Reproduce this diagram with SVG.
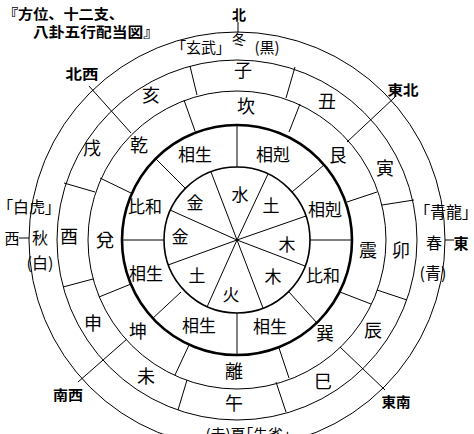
<svg xmlns="http://www.w3.org/2000/svg" width="474" height="434" viewBox="0 0 474 434">
<style>
.c{fill:none;stroke:#000;stroke-width:1}
.k{stroke-width:2.6}
.m{stroke-width:1.6}
.l line{stroke:#000;stroke-width:1}
text{font-family:"Noto Sans CJK JP","Noto Sans CJK SC",sans-serif;fill:#000;text-anchor:middle}
.b{font-weight:bold}
.p{font-feature-settings:"palt"}
.s18{font-size:18px}
.s17{font-size:17px}
.s16{font-size:16px}
.s15{font-size:15px}
.s14{font-size:14px}
</style>
<rect width="474" height="434" fill="#fff"/>
<g id="rings">
<circle class="c" cx="237" cy="240" r="208"/>
<circle class="c" cx="237" cy="240" r="180"/>
<circle class="c" cx="237" cy="240" r="149"/>
<circle class="c k" cx="237" cy="240" r="115"/>
<circle class="c m" cx="237" cy="240" r="73"/>
</g>
<g id="connectors" class="l">
<line x1="197" y1="95" x2="190" y2="66"/>
<line x1="286" y1="98" x2="295" y2="67"/>
<line x1="382" y1="205" x2="414" y2="200"/>
<line x1="377" y1="290" x2="407" y2="300"/>
<line x1="276" y1="382" x2="286" y2="412"/>
<line x1="187" y1="380" x2="178" y2="410"/>
<line x1="93" y1="279" x2="63" y2="287"/>
<line x1="95" y1="192" x2="64" y2="183"/>
<line x1="195" y1="131" x2="184" y2="100"/>
<line x1="289" y1="132" x2="300" y2="104"/>
<line x1="347" y1="202" x2="377" y2="192"/>
<line x1="340" y1="292" x2="371" y2="304"/>
<line x1="279" y1="348" x2="289" y2="378"/>
<line x1="189" y1="345" x2="175" y2="375"/>
<line x1="131" y1="284" x2="99" y2="297"/>
<line x1="131" y1="193" x2="100" y2="178"/>
<line x1="237" y1="167" x2="237" y2="125"/>
<line x1="292" y1="192" x2="324" y2="165"/>
<line x1="310" y1="240" x2="352" y2="240"/>
<line x1="289" y1="292" x2="317" y2="323"/>
<line x1="237" y1="313" x2="237" y2="355"/>
<line x1="181" y1="292" x2="152" y2="319"/>
<line x1="164" y1="240" x2="122" y2="240"/>
<line x1="185" y1="188" x2="156" y2="159"/>
<line x1="237" y1="240" x2="211" y2="172"/>
<line x1="237" y1="240" x2="268" y2="174"/>
<line x1="237" y1="240" x2="306" y2="216"/>
<line x1="237" y1="240" x2="305" y2="266"/>
<line x1="237" y1="240" x2="263" y2="308"/>
<line x1="237" y1="240" x2="207" y2="307"/>
<line x1="237" y1="240" x2="168" y2="265"/>
<line x1="237" y1="240" x2="170" y2="210"/>
<line x1="131" y1="133" x2="89" y2="86"/>
<line x1="347" y1="142" x2="395" y2="97"/>
<line x1="340" y1="347" x2="385" y2="390"/>
<line x1="127" y1="339" x2="78" y2="382"/>
<line x1="238" y1="22" x2="238" y2="32"/>
<line x1="19" y1="238" x2="29" y2="238"/>
<line x1="445" y1="240" x2="454" y2="240"/>
</g>
<g id="title">
<text class="b s14" x="3" y="19" style="text-anchor:start" textLength="121" lengthAdjust="spacingAndGlyphs">『方位、十二支、</text>
<text class="b s14" x="33" y="37" style="text-anchor:start" textLength="126" lengthAdjust="spacingAndGlyphs">八卦五行配当図』</text>
</g>
<g id="directions">
<text class="b s14" x="239" y="20">北</text>
<text class="b s14" x="82" y="79" textLength="33" lengthAdjust="spacingAndGlyphs">北西</text>
<text class="b s14" x="403" y="95" textLength="31" lengthAdjust="spacingAndGlyphs">東北</text>
<text class="b s14" x="68" y="400" textLength="30" lengthAdjust="spacingAndGlyphs">南西</text>
<text class="b s14" x="396" y="407" textLength="29" lengthAdjust="spacingAndGlyphs">東南</text>
<text class="s15" x="12" y="244">西</text>
<text class="b s15" x="461" y="249">東</text>
</g>
<g id="seasons">
<text class="s15 p" x="201" y="53">「玄武」</text>
<text class="s14" x="239" y="44">冬</text>
<text class="s15" x="267" y="53">(黒)</text>
<text class="s16 p" x="29" y="213">「白虎」</text>
<text class="s16" x="40" y="244">秋</text>
<text class="s16" x="40" y="269">(白)</text>
<text class="s16 p" x="446" y="218">「青龍」</text>
<text class="s16" x="434" y="249">春</text>
<text class="s16" x="433" y="279">(青)</text>
<text class="s15 p" x="248" y="440">(赤)夏「朱雀」</text>
</g>
<g id="branches" class="s18">
<text x="243" y="77">子</text>
<text x="327" y="108">丑</text>
<text x="385" y="175">寅</text>
<text x="401" y="257">卯</text>
<text x="373" y="337">辰</text>
<text x="323" y="388">巳</text>
<text x="234" y="410">午</text>
<text x="146" y="383">未</text>
<text x="93" y="330">申</text>
<text x="69" y="243">酉</text>
<text x="92" y="155">戌</text>
<text x="151" y="102">亥</text>
</g>
<g id="trigrams" class="s18">
<text x="246" y="113">坎</text>
<text x="338" y="162">艮</text>
<text x="368" y="257">震</text>
<text x="325" y="340">巽</text>
<text x="234" y="378">離</text>
<text x="138" y="338">坤</text>
<text x="105" y="247">兌</text>
<text x="139" y="152">乾</text>
</g>
<g id="relations" class="s17">
<text x="195" y="161">相生</text>
<text x="273" y="161">相剋</text>
<text x="325" y="216">相剋</text>
<text x="323" y="282">比和</text>
<text x="270" y="333">相生</text>
<text x="199" y="332">相生</text>
<text x="146" y="280">相生</text>
<text x="145" y="213">比和</text>
</g>
<g id="elements" class="s17">
<text x="240" y="201">水</text>
<text x="271" y="212">土</text>
<text x="287" y="251">木</text>
<text x="273" y="283">木</text>
<text x="231" y="301">火</text>
<text x="197" y="282">土</text>
<text x="180" y="243">金</text>
<text x="195" y="209">金</text>
</g>
</svg>
